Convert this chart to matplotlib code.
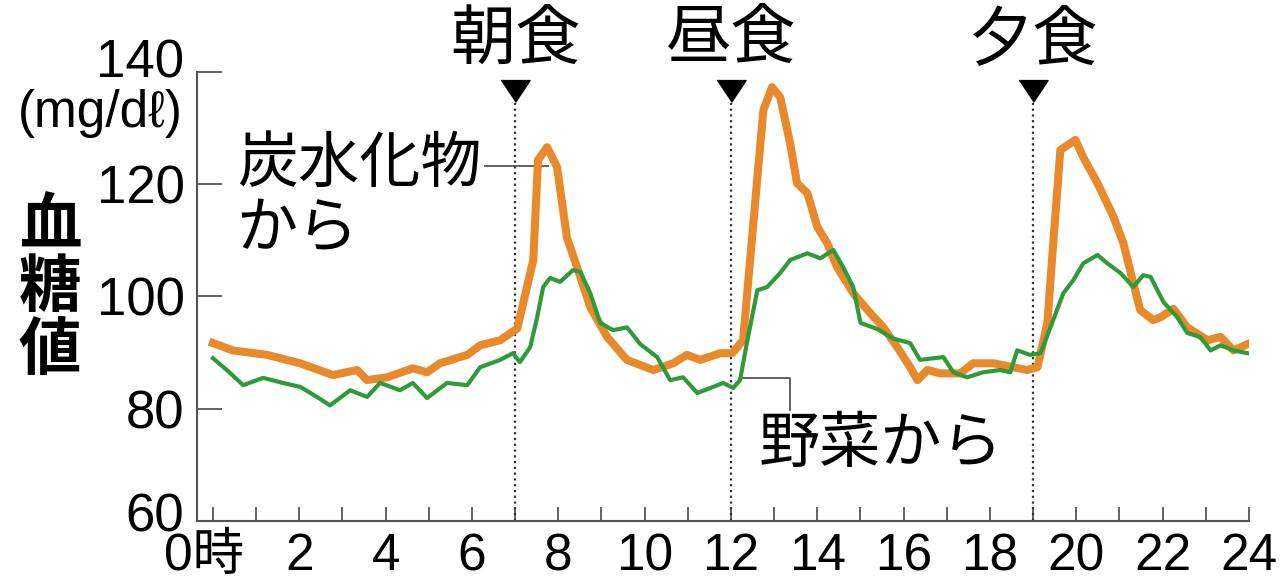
import numpy as np
import matplotlib
matplotlib.use("Agg")
import matplotlib.pyplot as plt
from matplotlib.transforms import ScaledTranslation

plt.rcParams['font.family'] = ['Liberation Sans', 'Noto Sans CJK JP', 'DejaVu Sans']

# blood glucose over a day (hour, mg/dl)
carb_h = [0.00, 0.46, 1.25, 2.02, 2.78, 3.34, 3.57, 4.03, 4.63, 4.96, 5.26, 5.89,
          6.19, 6.65, 7.05, 7.42, 7.53, 7.74, 7.97, 8.20, 8.51, 8.74, 9.13, 9.59,
          10.20, 10.66, 10.98, 11.29, 11.75, 12.03, 12.28, 12.51, 12.75, 12.95,
          13.14, 13.37, 13.53, 13.77, 14.00, 14.23, 14.46, 14.69, 14.83, 15.23,
          15.53, 15.85, 16.15, 16.32, 16.55, 16.85, 17.31, 17.61, 18.08, 18.54,
          18.86, 19.10, 19.33, 19.47, 19.63, 19.98, 20.16, 20.49, 20.86, 21.09,
          21.32, 21.48, 21.78, 21.95, 22.25, 22.57, 23.04, 23.34, 23.64, 23.96]
carb_v = [91.7, 90.4, 89.6, 88.1, 86.0, 86.9, 85.1, 85.6, 87.2, 86.5, 88.1, 89.6,
          91.3, 92.2, 94.3, 106.5, 124.3, 126.6, 123.1, 110.5, 103.5, 98.1, 92.8, 88.7,
          86.9, 88.1, 89.6, 88.7, 89.9, 89.9, 92.2, 112.4, 133.2, 137.3,
          135.5, 127.3, 120.2, 118.4, 112.4, 109.5, 105.2, 102.4, 100.6, 97.0,
          94.5, 91.0, 87.4, 85.1, 86.9, 86.3, 86.3, 88.1, 88.1, 87.4,
          86.9, 87.4, 95.3, 110.0, 126.1, 127.9, 124.8, 120.2, 114.2, 109.5,
          102.4, 97.6, 95.8, 96.3, 97.8, 94.5, 92.2, 92.8, 90.4, 91.5]

veg_h = [0.00, 0.32, 0.70, 1.16, 1.62, 2.02, 2.41, 2.71, 3.18, 3.57, 3.87, 4.33,
         4.63, 4.96, 5.42, 5.89, 6.19, 6.65, 6.95, 7.11, 7.35, 7.51, 7.65, 7.81,
         8.04, 8.34, 8.51, 8.74, 8.97, 9.27, 9.59, 9.90, 10.29, 10.59, 10.89,
         11.22, 11.59, 11.82, 12.05, 12.21, 12.38, 12.61, 12.84, 13.14, 13.37,
         13.77, 14.07, 14.37, 14.60, 14.83, 15.00, 15.39, 15.76, 16.15, 16.38,
         16.69, 16.92, 17.15, 17.47, 17.84, 18.24, 18.47, 18.63, 18.93, 19.17,
         19.40, 19.70, 19.93, 20.16, 20.49, 20.72, 21.02, 21.32, 21.55, 21.72,
         22.02, 22.34, 22.57, 22.87, 23.11, 23.34, 23.64, 23.96]
veg_v = [89.0, 86.9, 84.2, 85.5, 84.6, 83.9, 82.1, 80.6, 83.3, 82.1, 84.6, 83.3,
         84.6, 81.9, 84.6, 84.2, 87.4, 88.7, 89.9, 88.3, 91.0, 96.3, 101.7, 103.3,
         102.6, 104.7, 104.4, 100.6, 95.3, 94.0, 94.5, 91.5, 89.2, 85.1, 85.6,
         82.8, 83.9, 84.6, 83.7, 85.1, 92.2, 101.1, 101.7, 104.2, 106.5,
         107.7, 106.8, 108.3, 105.2, 101.7, 95.3, 94.2, 92.5, 91.7, 88.7,
         89.0, 89.2, 86.5, 85.6, 86.5, 86.9, 86.5, 90.4, 89.6, 89.9,
         94.5, 100.6, 102.9, 105.9, 107.4, 105.9, 104.2, 101.7, 103.8, 103.5,
         99.0, 96.3, 93.5, 92.8, 90.4, 91.3, 90.4, 89.9]

meal_h = [7, 12, 19]
meal_names = ['朝食', '昼食', '夕食']
yticks = [60, 80, 100, 120, 140]
xticks = list(range(0, 25, 2))
xlabels = ['0時'] + [str(h) for h in xticks[1:]]

fig = plt.figure(figsize=(12.85, 5.84), dpi=100)
ax = fig.add_axes([197 / 1285, 63 / 584, 1052 / 1285, 449 / 584])

orange = '#E8892C'
green = '#2F9A3A'
ax.plot(carb_h, carb_v, color=orange, lw=5.8, solid_joinstyle='round', zorder=3)
ax.plot(veg_h, veg_v, color=green, lw=3, solid_joinstyle='round', zorder=4)

# meal markers
for h, name in zip(meal_h, meal_names):
    ax.plot([h, h], [60, 134.5], color='#333333', lw=1.6, ls=(0, (1, 1.6)), zorder=2)
    ax.plot(h, 136.6, marker=[(-1, 0.75), (1, 0.75), (0, -0.75)], ms=21,
            color='black', clip_on=False, zorder=5)
    ax.text(h, 145.5, name, fontsize=47, ha='center', va='center', clip_on=False)

# callouts
ax.plot([7.75, 6.3], [123.2, 123.2], color='#555555', lw=1.3, zorder=2)
ax.text(0.55, 123.2, '炭水化物', fontsize=44, ha='left', va='center')
ax.text(0.55, 111.5, 'から', fontsize=44, ha='left', va='center')
ax.plot([12.2, 13.37, 13.37], [85.5, 85.5, 79.8], color='#555555', lw=1.3, zorder=2)
ax.text(12.65, 73.3, '野菜から', fontsize=44, ha='left', va='center')

ax.set_xlim(-0.37, 24.0)
ax.set_ylim(60, 140)
for s in ['top', 'right']:
    ax.spines[s].set_visible(False)
for s in ['left', 'bottom']:
    ax.spines[s].set_color('#555555')
    ax.spines[s].set_linewidth(1.5)

ax.set_yticks(yticks)
ax.set_xticks(xticks)
ax.set_xticks(range(1, 24, 2), minor=True)
ax.set_xticklabels(xlabels)
ax.tick_params(axis='y', direction='in', length=18, width=1.3, color='#555555',
               labelsize=38, pad=9)
ax.tick_params(axis='x', which='both', direction='in', length=10, width=1.3,
               color='#555555', labelsize=37, pad=8)
lab0 = ax.get_xticklabels()[0]
lab0.set_transform(lab0.get_transform() + ScaledTranslation(-0.09, 0, fig.dpi_scale_trans))
ylabs = ax.get_yticklabels()
ylabs[-1].set_transform(ylabs[-1].get_transform() + ScaledTranslation(0, 0.14, fig.dpi_scale_trans))
ylabs[0].set_transform(ylabs[0].get_transform() + ScaledTranslation(0, 0.09, fig.dpi_scale_trans))

fig.text(100 / 1285, 1 - 114 / 584, '(mg/dℓ)', fontsize=37, ha='center', va='center')
for i, ch in enumerate('血糖値'):
    fig.text(50 / 1285, 1 - (228 + 62 * i) / 584, ch, fontsize=45, fontweight='bold',
             ha='center', va='center')

fig.savefig('out.png', dpi=100)
